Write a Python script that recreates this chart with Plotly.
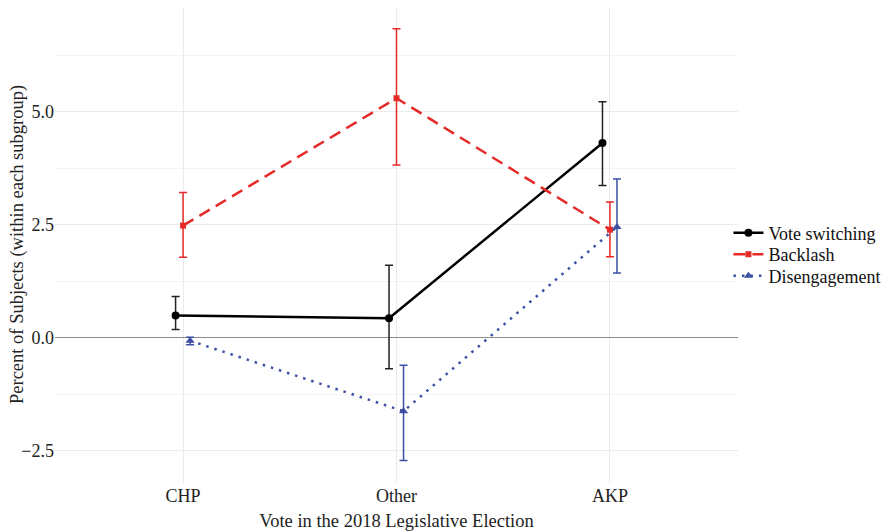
import plotly.graph_objects as go

categories = ["CHP", "Other", "AKP"]
series_names = ["Vote switching", "Backlash", "Disengagement"]

vote_switching = [0.49, 0.43, 4.31]
vote_switching_hi = [0.91, 1.60, 5.22]
vote_switching_lo = [0.18, -0.69, 3.37]

backlash = [2.48, 5.30, 2.39]
backlash_hi = [3.21, 6.84, 3.00]
backlash_lo = [1.78, 3.82, 1.79]

disengagement = [-0.07, -1.63, 2.45]
disengagement_hi = [0.01, -0.61, 3.51]
disengagement_lo = [-0.16, -2.72, 1.43]

y_ticks = [-2.5, 0.0, 2.5, 5.0]
x_title = "Vote in the 2018 Legislative Election"
y_title = "Percent of Subjects (within each subgroup)"

FONT = "Liberation Serif, Times New Roman, serif"
dodge = [-0.035, 0.0, 0.033]
colors = ["#000000", "#E52A28", "#3C4FA5"]
err_colors = ["#222222", "#E52A28", "#3C4FA5"]
dashes = ["solid", "12px,7px", "2.5px,6px"]
symbols = ["circle", "square", "triangle-up"]
msizes = [8, 6, 8]
legend_ids = ["legend", "legend2", "legend3"]

data = [
    (vote_switching, vote_switching_hi, vote_switching_lo),
    (backlash, backlash_hi, backlash_lo),
    (disengagement, disengagement_hi, disengagement_lo),
]

fig = go.Figure()
base_x = list(range(1, len(categories) + 1))
for i, (vals, hi, lo) in enumerate(data):
    xs = [b + dodge[i] for b in base_x]
    fig.add_trace(go.Scatter(
        x=xs, y=vals, name=series_names[i], mode="lines+markers",
        legend=legend_ids[i],
        line=dict(color=colors[i], width=2.5, dash=dashes[i]),
        marker=dict(symbol=symbols[i], size=msizes[i], color=colors[i]),
        error_y=dict(type="data", symmetric=False,
                     array=[h - v for h, v in zip(hi, vals)],
                     arrayminus=[v - l for v, l in zip(vals, lo)],
                     color=err_colors[i], thickness=1.5, width=4),
    ))

plot_top, plot_bottom = 7, 483
plot_left, plot_right = 55, 738
legend_px = [233, 254.5, 276]
leg_common = dict(x=0.986, xanchor="left", yanchor="middle",
                  font=dict(family=FONT, size=18, color="#111111"),
                  bgcolor="rgba(0,0,0,0)", itemwidth=30)
legend_layout = {}
for lid, py in zip(legend_ids, legend_px):
    legend_layout[lid] = dict(leg_common, y=(plot_bottom - py) / (plot_bottom - plot_top))

fig.update_layout(
    width=890, height=531,
    margin=dict(l=plot_left, r=890 - plot_right, t=plot_top, b=531 - plot_bottom,
                autoexpand=False),
    paper_bgcolor="white", plot_bgcolor="white",
    font=dict(family=FONT, size=17, color="#222222"),
    showlegend=True,
    **legend_layout,
)
fig.add_annotation(
    text=y_title, textangle=-90, showarrow=False,
    xref="paper", yref="paper", x=(17 - plot_left) / (plot_right - plot_left), y=0.5,
    xanchor="center", yanchor="middle",
    font=dict(family=FONT, size=18.5, color="#222222"),
)
fig.update_xaxes(
    range=[0.4, 3.6], tickvals=base_x, ticktext=categories,
    showgrid=True, gridcolor="#EBEBEB", gridwidth=1.2,
    zeroline=False, showline=False, ticks="", automargin=False,
    tickfont=dict(family=FONT, size=18, color="#222222"),
    title=dict(text=x_title,
               font=dict(family=FONT, size=18.5, color="#222222"), standoff=9),
)
fig.update_yaxes(
    range=[-3.22, 7.32], tickvals=y_ticks,
    ticktext=["\u22122.5", "0.0", "2.5", "5.0"],
    showgrid=True, gridcolor="#EBEBEB", gridwidth=1.2,
    minor=dict(dtick=1.25, tick0=0, showgrid=True, gridcolor="#F3F3F3", gridwidth=1),
    zeroline=True, zerolinecolor="#8C8C8C", zerolinewidth=1.2,
    showline=False, ticks="", automargin=False,
    tickfont=dict(family=FONT, size=18, color="#222222"),
)

fig.write_html("out.html")
